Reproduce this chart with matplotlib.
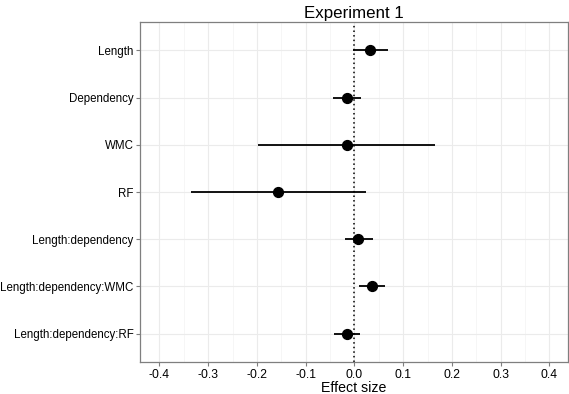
import numpy as np
import matplotlib
matplotlib.use("Agg")
import matplotlib.pyplot as plt
from matplotlib.ticker import MultipleLocator

plt.rcParams['font.family'] = ['Liberation Sans', 'DejaVu Sans']

terms = ['Length', 'Dependency', 'WMC', 'RF', 'Length:dependency',
         'Length:dependency:WMC', 'Length:dependency:RF']
estimate = [0.032, -0.015, -0.016, -0.157, 0.008, 0.036, -0.015]
lower = [-0.002, -0.043, -0.197, -0.335, -0.019, 0.010, -0.042]
upper = [0.068, 0.014, 0.166, 0.024, 0.039, 0.063, 0.012]
xticks = [-0.4, -0.3, -0.2, -0.1, 0.0, 0.1, 0.2, 0.3, 0.4]

fig = plt.figure(figsize=(5.69, 3.94), dpi=100)
ax = fig.add_axes([0.246, 0.0812, 0.752, 0.8628])

# first term at the top, like ggplot with reversed factor
ypos = np.arange(len(terms))[::-1]

ax.axvline(0, color='black', linestyle=(0, (1, 2)), linewidth=1.1, zorder=2)
ax.hlines(ypos, lower, upper, color='black', linewidth=1.3, zorder=3)
ax.scatter(estimate, ypos, s=50, color='black', zorder=4)

ax.set_xlim(-0.44, 0.438)
ax.set_ylim(-0.6, len(terms) - 0.4)
ax.set_xticks(xticks)
ax.set_xticklabels([f'{t:.1f}' for t in xticks])
ax.xaxis.set_minor_locator(MultipleLocator(0.05))
ax.set_yticks(ypos)
ax.set_yticklabels(terms)

ax.grid(which='major', color='#ebebeb', linewidth=0.8, zorder=0)
ax.grid(which='minor', axis='x', color='#f3f3f3', linewidth=0.5, zorder=0)
ax.set_axisbelow(True)
for s in ax.spines.values():
    s.set_color('#7f7f7f')
    s.set_linewidth(0.9)
ax.tick_params(which='major', length=3, color='#7f7f7f',
               labelcolor='black', pad=2)
ax.tick_params(axis='x', labelsize=8.7)
ax.tick_params(axis='y', labelsize=8.3, pad=1.5)
ax.tick_params(which='minor', length=0)

ax.set_title('Experiment 1', fontsize=12.2, pad=3)
ax.set_xlabel('Effect size', fontsize=10.2, labelpad=0)

fig.savefig('out.png', dpi=100)
